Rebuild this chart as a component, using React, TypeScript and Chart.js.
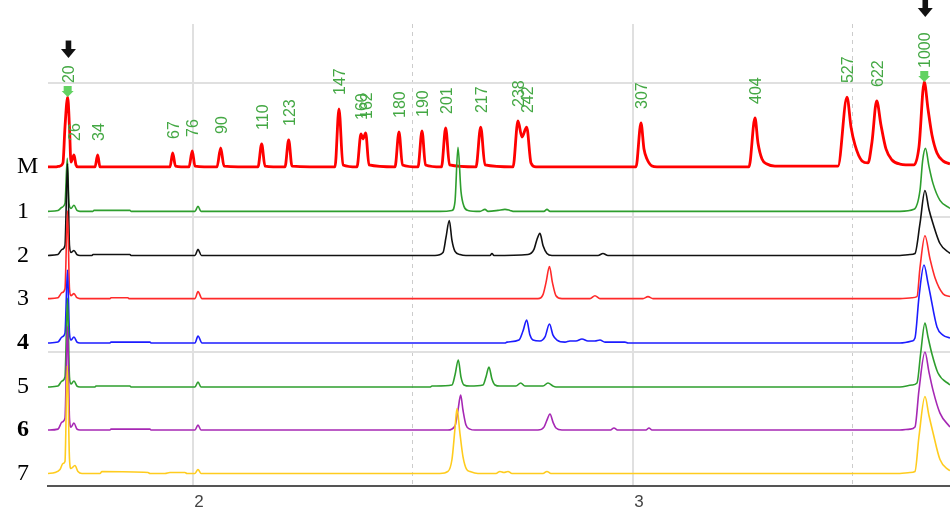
import React, { useEffect, useRef } from 'react';
import { Chart, registerables } from 'chart.js';

Chart.register(...registerables);

// ---------- data ----------
const laneNames = ['M', '1', '2', '3', '4', '5', '6', '7'];
// stacking offset (RFU) of every lane's baseline
const laneOffsets = [2372, 2042, 1714, 1393, 1063, 736, 416, 93];

// [time (min), signal (RFU above lane baseline)]
const traceM: [number, number][] = [
  [1.6705, 0], [1.6864, 0], [1.6977, 7], [1.7045, 30], [1.7091, 297], [1.7152, 520], [1.7193, 297], [1.7227, 37], [1.7295, 89], [1.7341, 15], [1.7386, 0],
  [1.7773, 0], [1.7834, 89], [1.7886, 0],
  [1.9477, 0], [1.9539, 104], [1.9602, 7],
  [1.9909, 0], [1.9984, 119], [2.0045, 7],
  [2.0545, 0], [2.063, 141], [2.0705, 7],
  [2.1477, 0], [2.1561, 171], [2.1636, 7],
  [2.2091, 0], [2.2175, 201], [2.225, 7],
  [2.3227, 0], [2.3318, 431], [2.3409, 15],
  [2.3727, 0], [2.3818, 245], [2.3864, 208], [2.3925, 253], [2.4, 15],
  [2.4591, 0], [2.4682, 260], [2.4761, 15],
  [2.5114, 0], [2.5205, 268], [2.5284, 15],
  [2.5648, 0], [2.5743, 290], [2.583, 15],
  [2.6432, 0], [2.6539, 297], [2.6636, 15],
  [2.7273, 0], [2.7386, 342], [2.7477, 223], [2.7584, 297], [2.7682, 30], [2.7795, 0],
  [3.0068, 0], [3.0182, 327], [3.025, 134], [3.0318, 59], [3.0432, 7], [3.0545, 0],
  [3.2636, 0], [3.2773, 364], [3.2841, 178], [3.2932, 59], [3.3045, 22], [3.3227, 7],
  [3.4659, 7], [3.4864, 520], [3.4955, 297], [3.5045, 164], [3.5205, 45], [3.5341, 30], [3.5432, 186], [3.5539, 491], [3.5636, 312], [3.575, 134], [3.5886, 52], [3.6068, 22],
  [3.6386, 15], [3.65, 149], [3.662, 632], [3.6705, 431], [3.6795, 238], [3.6909, 104], [3.7045, 45], [3.7205, 22],
];

const trace1: [number, number][] = [
  [1.6705, 0], [1.6932, 7], [1.7023, 30], [1.7091, 59], [1.7143, 394], [1.7182, 59], [1.7227, 22], [1.7295, 45], [1.7364, 7], [1.7432, 0],
  [1.7727, 0], [1.775, 7], [1.8568, 7], [1.8591, 0],
  [2.0045, 0], [2.0114, 37], [2.0182, 0],
  [2.5614, 0], [2.5886, 7], [2.5955, 74], [2.6023, 476], [2.6091, 149], [2.6159, 37], [2.625, 7], [2.6523, 0],
  [2.6636, 15], [2.6705, 0], [2.6932, 7], [2.7091, 15], [2.7205, 7], [2.7273, 0],
  [2.7977, 0], [2.8045, 15], [2.8114, 0],
  [3.6068, 0], [3.6386, 15], [3.6523, 156], [3.6584, 379], [3.6648, 468], [3.6727, 335], [3.6818, 208], [3.6977, 82], [3.7205, 22],
];

const trace2: [number, number][] = [
  [1.6705, 0], [1.6932, 7], [1.7023, 45], [1.7091, 74], [1.7148, 684], [1.7193, 74], [1.7227, 22], [1.7295, 37], [1.7364, 7], [1.7432, 0],
  [1.7705, 0], [1.7727, 7], [1.8568, 7], [1.8591, 0],
  [2.0045, 0], [2.0114, 45], [2.0193, 0],
  [2.55, 0], [2.5682, 22], [2.575, 134], [2.5825, 260], [2.5886, 112], [2.5955, 30], [2.6068, 7], [2.6205, 0],
  [2.675, 0], [2.6795, 15], [2.6841, 0],
  [2.7614, 7], [2.775, 45], [2.7818, 119], [2.7886, 164], [2.7955, 74], [2.8045, 15], [2.8159, 0],
  [2.9205, 0], [2.9318, 15], [2.9432, 0],
  [3.6068, 0], [3.6295, 7], [3.6409, 15], [3.6523, 238], [3.6636, 483], [3.6727, 342], [3.6818, 238], [3.6977, 89], [3.7205, 15],
];

const trace3: [number, number][] = [
  [1.6705, 0], [1.6932, 7], [1.7023, 45], [1.7091, 74], [1.7148, 654], [1.7193, 74], [1.7227, 22], [1.7295, 37], [1.7364, 7], [1.7432, 0],
  [1.8114, 0], [1.8136, 7], [1.8523, 7], [1.8545, 0],
  [2.0045, 0], [2.0114, 52], [2.0205, 0],
  [2.7841, 0], [2.7955, 30], [2.8023, 119], [2.8102, 238], [2.817, 119], [2.825, 22], [2.8386, 0],
  [2.9023, 0], [2.9136, 22], [2.925, 0],
  [3.0227, 0], [3.0341, 15], [3.0455, 0],
  [3.6068, 0], [3.6341, 7], [3.6455, 15], [3.6523, 230], [3.6636, 468], [3.675, 297], [3.6864, 156], [3.7045, 37], [3.7205, 15],
];

const trace4: [number, number][] = [
  [1.6705, 0], [1.6932, 7], [1.7023, 45], [1.7091, 74], [1.7148, 543], [1.7193, 74], [1.7227, 22], [1.7295, 45], [1.7364, 7], [1.7432, 0],
  [1.8114, 0], [1.8136, 7], [1.9023, 7], [1.9045, 0],
  [2.0045, 0], [2.0114, 52], [2.0205, 0],
  [2.7091, 0], [2.7136, 7], [2.7409, 22], [2.75, 89], [2.7584, 171], [2.7659, 59], [2.7727, 22], [2.7886, 15],
  [2.8, 45], [2.8102, 141], [2.8182, 59], [2.8273, 22], [2.8455, 7], [2.8568, 15], [2.8705, 15], [2.8841, 30], [2.8977, 15],
  [2.9136, 15], [2.925, 22], [2.9364, 7], [2.9818, 7], [2.9886, 0],
  [3.6068, 0], [3.6341, 15], [3.6409, 37], [3.65, 342], [3.6614, 580], [3.6705, 446], [3.675, 372], [3.6909, 119], [3.7045, 59], [3.7205, 37],
];

const trace5: [number, number][] = [
  [1.6705, 0], [1.6932, 7], [1.7023, 45], [1.7091, 74], [1.7148, 662], [1.7193, 74], [1.7227, 22], [1.7295, 45], [1.7364, 7], [1.7432, 0],
  [1.7773, 0], [1.7795, 7], [1.8568, 7], [1.8591, 0],
  [2.0045, 0], [2.0114, 37], [2.0182, 0],
  [2.5386, 0], [2.5432, 7], [2.5886, 15], [2.5955, 89], [2.603, 201], [2.6091, 74], [2.6159, 15], [2.6295, 7],
  [2.6591, 15], [2.6659, 74], [2.6727, 149], [2.6795, 59], [2.6864, 15], [2.6977, 7],
  [2.7341, 7], [2.7448, 30], [2.7545, 7], [2.7955, 7], [2.8068, 30], [2.8182, 7], [2.825, 0],
  [3.6068, 0], [3.6341, 15], [3.6455, 30], [3.6539, 253], [3.6636, 476], [3.6705, 372], [3.6789, 253], [3.6932, 104], [3.7205, 15],
];

const trace6: [number, number][] = [
  [1.6705, 0], [1.6932, 7], [1.7023, 59], [1.7091, 89], [1.7148, 773], [1.7193, 89], [1.7227, 22], [1.7295, 52], [1.7364, 7], [1.7432, 0],
  [1.8114, 0], [1.8136, 7], [1.9023, 7], [1.9045, 0],
  [2.0045, 0], [2.0114, 37], [2.0182, 0],
  [2.5795, 0], [2.5955, 30], [2.6023, 149], [2.6084, 260], [2.6136, 149], [2.6205, 37], [2.6295, 7], [2.6409, 0],
  [2.7841, 0], [2.7977, 22], [2.8045, 74], [2.8114, 119], [2.8182, 59], [2.825, 15], [2.8386, 0],
  [2.9477, 0], [2.9568, 15], [2.9659, 0], [3.0295, 0], [3.0364, 15], [3.0432, 0],
  [3.6068, 0], [3.6295, 7], [3.6409, 22], [3.65, 297], [3.6636, 580], [3.6727, 431], [3.6818, 297], [3.6977, 126], [3.7205, 22],
];

const trace7: [number, number][] = [
  [1.6705, 0], [1.6864, 7], [1.6977, 30], [1.7045, 74], [1.7091, 89], [1.7143, 803], [1.7193, 112], [1.7227, 37], [1.7318, 59], [1.7386, 15], [1.7477, 0],
  [1.7886, 0], [1.7932, 15], [1.8977, 7], [1.9023, 0],
  [1.9364, 0], [1.9477, 7], [1.9818, 7], [1.9864, 0],
  [2.0045, 0], [2.0114, 30], [2.0182, 0],
  [2.5614, 0], [2.5795, 15], [2.5886, 104], [2.5955, 335], [2.6, 483], [2.6068, 297], [2.6136, 126], [2.622, 30], [2.6295, 15], [2.6477, 0],
  [2.6886, 0], [2.6977, 15], [2.7068, 7], [2.7159, 15], [2.725, 0],
  [2.7955, 0], [2.8045, 15], [2.8136, 0],
  [3.6068, 0], [3.6295, 7], [3.6409, 15], [3.65, 275], [3.6636, 572], [3.6727, 431], [3.6818, 305], [3.6977, 104], [3.7159, 30], [3.7205, 22],
];

const laneTraces = [traceM, trace1, trace2, trace3, trace4, trace5, trace6, trace7];

// size-standard peak labels: [bp, time of the ladder peak]
const ladderLabels: [string, number][] = [
  ['20', 1.7152], ['26', 1.7295], ['34', 1.7834], ['67', 1.9539], ['76', 1.9984], ['90', 2.063],
  ['110', 2.1561], ['123', 2.2175], ['147', 2.3318], ['160', 2.3818], ['162', 2.3925], ['180', 2.4682],
  ['190', 2.5205], ['201', 2.5743], ['217', 2.6539], ['238', 2.7386], ['242', 2.7584], ['307', 3.0182],
  ['404', 3.2773], ['527', 3.4864], ['622', 3.5539], ['1000', 3.662],
];
const markerPeaks = ['20', '1000'];
// black arrows: [time, RFU at arrow tip]
const arrowMarks: [number, number][] = [[1.717, 3182], [3.6643, 3487]];

const xTicks = [2, 2.5, 3, 3.5];
const yGridTicks = [0, 1000, 2000, 3000];
const xMin = 1.6705;
const xMax = 3.7205;
const yMin = 0;
const yMax = 3435;

// ---------- styles ----------
const laneColors = ['#ff0000', '#2e9e2e', '#111111', '#ff2a2a', '#1c1cff', '#2e9e2e', '#a628b4', '#ffcc1e'];
const laneWidths = [2.8, 1.6, 1.6, 1.6, 1.6, 1.6, 1.6, 1.6];

const annotationPlugin = {
  id: 'ladderAnnotations',
  afterDatasetsDraw(chart: any) {
    const { ctx } = chart;
    const xs = chart.scales.x;
    const ys = chart.scales.y;
    const mData = chart.data.datasets[0].data as { x: number; y: number }[];
    ctx.save();
    for (const [label, xv] of ladderLabels) {
      const pt = mData.find((p) => Math.abs(p.x - xv) < 1e-6);
      if (!pt) continue;
      const px = xs.getPixelForValue(xv);
      const py = ys.getPixelForValue(pt.y);
      if (markerPeaks.includes(label)) {
        ctx.fillStyle = '#62d262';
        ctx.beginPath();
        ctx.moveTo(px - 4, py - 11);
        ctx.lineTo(px + 4, py - 11);
        ctx.lineTo(px + 4, py - 6);
        ctx.lineTo(px + 6, py - 6);
        ctx.lineTo(px, py);
        ctx.lineTo(px - 6, py - 6);
        ctx.lineTo(px - 4, py - 6);
        ctx.closePath();
        ctx.fill();
      }
      ctx.save();
      ctx.fillStyle = '#44a844';
      ctx.font = '16px "Liberation Sans", Arial, sans-serif';
      ctx.textAlign = 'left';
      ctx.textBaseline = 'middle';
      ctx.translate(px + 1.5, py - 14);
      ctx.rotate(-Math.PI / 2);
      ctx.fillText(label, 0, 0);
      ctx.restore();
    }
    ctx.fillStyle = '#111111';
    for (const [xv, yv] of arrowMarks) {
      const px = xs.getPixelForValue(xv);
      const py = ys.getPixelForValue(yv);
      ctx.fillRect(px - 2.8, py - 17.5, 5.6, 9);
      ctx.beginPath();
      ctx.moveTo(px - 7.5, py - 9);
      ctx.lineTo(px + 7.5, py - 9);
      ctx.lineTo(px, py);
      ctx.closePath();
      ctx.fill();
    }
    ctx.restore();
  },
};

const isMinor = (c: any) => !!(c && c.tick && Math.abs(c.tick.value % 1) > 1e-9);

export default function App() {
  const canvasRef = useRef<HTMLCanvasElement | null>(null);

  useEffect(() => {
    if (!canvasRef.current) return;
    const datasets = laneTraces.map((trace, i) => ({
      label: laneNames[i],
      data: trace.map(([t, s]) => ({ x: t, y: laneOffsets[i] + s })),
      borderColor: laneColors[i],
      borderWidth: laneWidths[i],
      pointRadius: 0,
      fill: false,
      cubicInterpolationMode: 'monotone' as const,
      order: laneNames.length - i,
    }));
    const sortedOffsets = [...laneOffsets].sort((a, b) => a - b);
    const chart = new Chart(canvasRef.current, {
      type: 'line',
      data: { datasets },
      plugins: [annotationPlugin],
      options: {
        animation: false,
        responsive: false,
        devicePixelRatio: 1,
        events: [],
        layout: { padding: { left: 17, top: 24, right: 0, bottom: 0 } },
        plugins: { legend: { display: false }, tooltip: { enabled: false } },
        scales: {
          x: {
            type: 'linear',
            min: xMin,
            max: xMax,
            afterBuildTicks: (s: any) => {
              s.ticks = xTicks.map((v) => ({ value: v }));
            },
            afterFit: (s: any) => {
              s.height = 22;
            },
            ticks: {
              autoSkip: false,
              maxRotation: 0,
              padding: 6,
              labelOffset: 6,
              color: '#444444',
              font: { family: '"Liberation Sans", Arial, sans-serif', size: 17 },
              callback: (v: any) => (Math.abs(Number(v) % 1) < 1e-9 ? String(v) : ''),
            },
            grid: {
              drawTicks: false,
              color: (c: any) => (isMinor(c) ? '#cccccc' : '#e0e0e0'),
              lineWidth: (c: any) => (isMinor(c) ? 1 : 2),
            },
            border: {
              display: true,
              color: '#555555',
              width: 2,
              dash: (c: any) => (isMinor(c) ? [4, 4] : []),
            },
          },
          y: {
            type: 'linear',
            position: 'right',
            min: yMin,
            max: yMax,
            afterBuildTicks: (s: any) => {
              s.ticks = yGridTicks.map((v) => ({ value: v }));
            },
            afterFit: (s: any) => {
              s.width = 0;
            },
            ticks: { display: false },
            grid: { drawTicks: false, color: '#e0e0e0', lineWidth: 2 },
            border: { display: false },
          },
          y2: {
            type: 'linear',
            position: 'left',
            min: yMin,
            max: yMax,
            afterBuildTicks: (s: any) => {
              s.ticks = sortedOffsets.map((v) => ({ value: v }));
            },
            afterFit: (s: any) => {
              s.width = 31;
            },
            ticks: {
              autoSkip: false,
              padding: 0,
              crossAlign: 'far',
              color: '#000000',
              font: (c: any) => {
                const v = c && c.tick ? c.tick.value : null;
                const name = v !== null ? laneNames[laneOffsets.indexOf(v)] : '';
                return {
                  family: '"Liberation Serif", "Times New Roman", serif',
                  size: 24,
                  weight: name === '4' || name === '6' ? 'bold' : 'normal',
                };
              },
              callback: (v: any) => laneNames[laneOffsets.indexOf(Number(v))] ?? '',
            },
            grid: { display: false, drawTicks: false },
            border: { display: false },
          },
        },
      },
    } as any);
    return () => chart.destroy();
  }, []);

  return (
    <div style={{ position: 'fixed', left: 0, top: 0, width: 950, height: 508, background: '#ffffff' }}>
      <canvas ref={canvasRef} width={950} height={508} style={{ display: 'block' }} />
    </div>
  );
}
